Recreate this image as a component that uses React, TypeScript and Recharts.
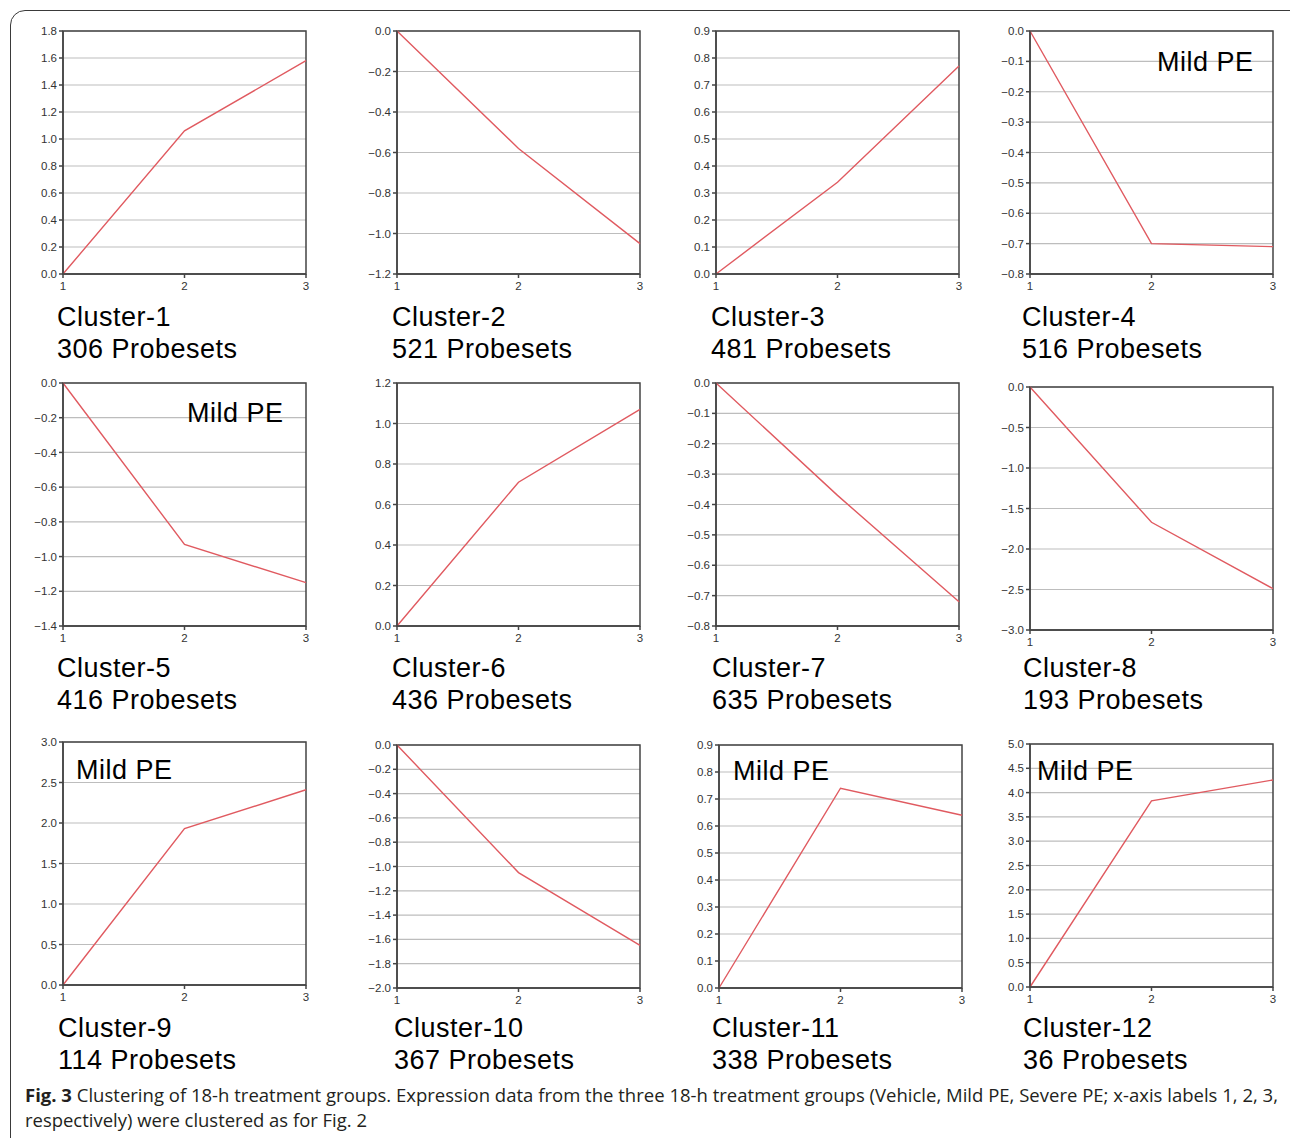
import React from 'react';
import { LineChart, Line, XAxis, YAxis, CartesianGrid, ReferenceArea } from 'recharts';

// x positions: 1 = Vehicle, 2 = Mild PE, 3 = Severe PE
const xLabels = [1, 2, 3];

// cluster profiles
const cluster1 = [0, 1.06, 1.58];
const cluster2 = [0, -0.58, -1.05];
const cluster3 = [0, 0.34, 0.77];
const cluster4 = [0, -0.7, -0.71];
const cluster5 = [0, -0.93, -1.15];
const cluster6 = [0, 0.71, 1.07];
const cluster7 = [0, -0.37, -0.72];
const cluster8 = [0, -1.67, -2.49];
const cluster9 = [0, 1.93, 2.41];
const cluster10 = [0, -1.05, -1.65];
const cluster11 = [0, 0.74, 0.64];
const cluster12 = [0, 3.83, 4.26];

const clusterSeries = [
  cluster1, cluster2, cluster3, cluster4, cluster5, cluster6,
  cluster7, cluster8, cluster9, cluster10, cluster11, cluster12,
];
const clusterNames = [
  'Cluster-1', 'Cluster-2', 'Cluster-3', 'Cluster-4', 'Cluster-5', 'Cluster-6',
  'Cluster-7', 'Cluster-8', 'Cluster-9', 'Cluster-10', 'Cluster-11', 'Cluster-12',
];
const probesetCounts = [306, 521, 481, 516, 416, 436, 635, 193, 114, 367, 338, 36];

// y axis range and tick step per panel
const yRanges = [
  [0, 1.8], [-1.2, 0], [0, 0.9], [-0.8, 0],
  [-1.4, 0], [0, 1.2], [-0.8, 0], [-3, 0],
  [0, 3], [-2, 0], [0, 0.9], [0, 5],
];
const ySteps = [0.2, 0.2, 0.1, 0.1, 0.2, 0.2, 0.1, 0.5, 0.5, 0.2, 0.1, 0.5];
const mildPE = [false, false, false, true, true, false, false, false, true, false, true, true];

const captionLine1 = 'Clustering of 18-h treatment groups. Expression data from the three 18-h treatment groups (Vehicle, Mild PE, Severe PE; x-axis labels 1, 2, 3,';
const captionLine2 = 'respectively) were clustered as for Fig. 2';

// layout: top-left corner of each plot box, label spots
const plotBoxes = [
  [63, 31], [397, 31], [716, 31], [1030, 31],
  [63, 383], [397, 383], [716, 383], [1030, 387],
  [63, 742], [397, 745], [719, 745], [1030, 744],
];
const labelSpots = [
  [57, 326], [392, 326], [711, 326], [1022, 326],
  [57, 677], [392, 677], [712, 677], [1023, 677],
  [58, 1037], [394, 1037], [712, 1037], [1023, 1037],
];
const mildSpots: Record<number, number[]> = {
  3: [1157, 71],
  4: [187, 422],
  8: [76, 779],
  10: [733, 780],
  11: [1037, 780],
};

const PLOT_W = 243;
const PLOT_H = 243;
const AXIS_W = 50;
const TOP = 10;
const RED = '#e05a60';
const SANS = "'Liberation Sans', Arial, Helvetica, sans-serif";

const fmt = (v: number) => v.toFixed(1).replace('-', '\u2212');

const makeTicks = (min: number, max: number, step: number) => {
  const n = Math.round((max - min) / step);
  return Array.from({ length: n + 1 }, (_, i) => +(min + i * step).toFixed(2));
};

const Panel = ({ idx }: { idx: number }) => {
  const [min, max] = yRanges[idx];
  const data = xLabels.map((x, i) => ({ x, v: clusterSeries[idx][i] }));
  const [left, top] = plotBoxes[idx];
  return (
    <div style={{ position: 'absolute', left: left - AXIS_W, top: top - TOP }}>
      <LineChart
        width={AXIS_W + PLOT_W + 8}
        height={TOP + PLOT_H + 24}
        data={data}
        margin={{ top: TOP, right: 8, bottom: 0, left: 0 }}
      >
        <CartesianGrid vertical={false} stroke="#bdbdbd" strokeWidth={1.2} />
        <XAxis
          dataKey="x"
          type="number"
          domain={[1, 3]}
          ticks={xLabels}
          interval={0}
          height={24}
          tickSize={4}
          tickMargin={4}
          stroke="#444"
          strokeWidth={1.5}
          tick={{ fontSize: 11.5, fill: '#333', fontFamily: SANS }}
        />
        <YAxis
          type="number"
          domain={[min, max]}
          ticks={makeTicks(min, max, ySteps[idx])}
          interval={0}
          width={AXIS_W}
          tickSize={4}
          tickMargin={2}
          stroke="#444"
          strokeWidth={1.5}
          tickFormatter={fmt}
          tick={{ fontSize: 11.5, fill: '#333', fontFamily: SANS }}
        />
        <ReferenceArea x1={1} x2={3} y1={min} y2={max} fill="#fff" fillOpacity={0} stroke="#444" strokeWidth={1.5} />
        <Line type="linear" dataKey="v" stroke={RED} strokeWidth={1.4} dot={false} isAnimationActive={false} />
      </LineChart>
    </div>
  );
};

const App = () => {
  return (
    <div
      style={{
        position: 'absolute',
        left: 0,
        top: 0,
        width: 1290,
        height: 1138,
        overflow: 'hidden',
        background: '#fff',
      }}
    >
      <div
        style={{
          position: 'absolute',
          left: 10,
          top: 10,
          width: 1300,
          height: 1160,
          border: '1.5px solid #3a3a3a',
          borderRadius: 15,
        }}
      />
      {clusterSeries.map((_, i) => (
        <Panel key={i} idx={i} />
      ))}
      <svg width={1290} height={1138} style={{ position: 'absolute', left: 0, top: 0, pointerEvents: 'none' }}>
        {clusterNames.map((name, i) => (
          <g key={name} fontFamily={SANS} fontSize={27} fill="#000" letterSpacing={0.5}>
            <text x={labelSpots[i][0]} y={labelSpots[i][1]}>{name}</text>
            <text x={labelSpots[i][0]} y={labelSpots[i][1] + 32}>{`${probesetCounts[i]} Probesets`}</text>
          </g>
        ))}
        {Object.entries(mildSpots).map(([k, [x, y]]) => (
          mildPE[Number(k)] ? (
            <text key={k} x={x} y={y} fontFamily={SANS} fontSize={27} fill="#000" letterSpacing={0.5}>
              Mild PE
            </text>
          ) : null
        ))}
        <text
          x={25}
          y={1102}
          fontFamily="'Open Sans', sans-serif"
          fontSize={18}
          fill="#231f20"
          textLength={1253}
          lengthAdjust="spacingAndGlyphs"
        >
          <tspan fontWeight="bold">Fig. 3</tspan> {captionLine1}
        </text>
        <text
          x={25}
          y={1127}
          fontFamily="'Open Sans', sans-serif"
          fontSize={18}
          fill="#231f20"
          textLength={342}
          lengthAdjust="spacingAndGlyphs"
        >
          {captionLine2}
        </text>
      </svg>
    </div>
  );
};

export default App;
